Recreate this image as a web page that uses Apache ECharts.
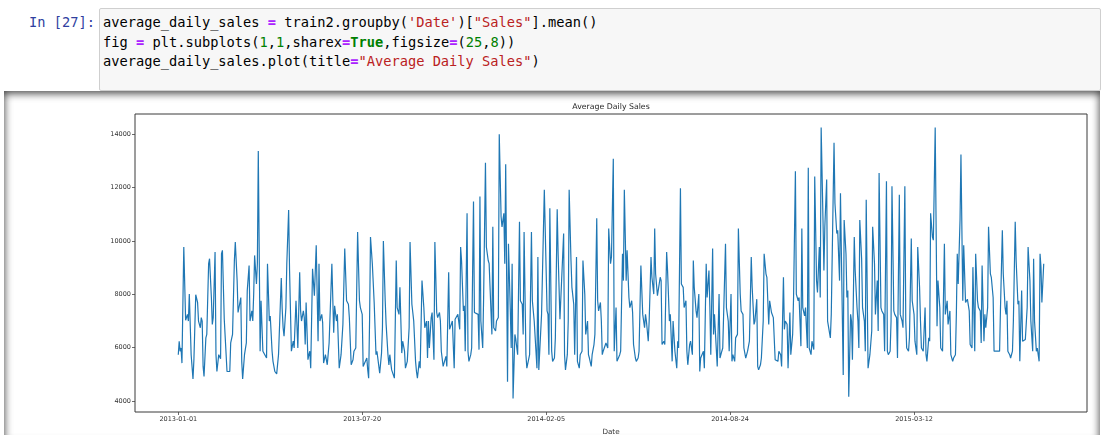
<!DOCTYPE html>
<html>
<head>
<meta charset="utf-8">
<script src="https://cdn.jsdelivr.net/npm/echarts@6/dist/echarts.min.js"></script>
<style>
  html, body { margin: 0; padding: 0; width: 1118px; height: 435px; overflow: hidden; background: #fff; }
  .prompt { position: absolute; left: 0; width: 95px; top: 13px; text-align: right;
    font-family: 'DejaVu Sans Mono', monospace; font-size: 13.7px; line-height: 19.5px; color: #303F9F; }
  .codebox { position: absolute; left: 99px; top: 8px; width: 1000px; height: 81px;
    background: #f7f7f7; border: 1px solid #cfcfcf; border-radius: 2px; }
  .code { position: absolute; left: 103px; top: 13px; white-space: pre;
    font-family: 'DejaVu Sans Mono', monospace; font-size: 13.7px; line-height: 19.5px; color: #000; }
  .o { color: #AA22FF; font-weight: bold; }
  .s { color: #BA2121; }
  .k { color: #008000; font-weight: bold; }
  .n { color: #008000; }
  .out { position: absolute; left: 4px; top: 91px; width: 1096px; height: 350px; background: #fff;
    box-shadow: inset 0 2px 8px rgba(0,0,0,0.8); }
  #chart { position: absolute; left: 0; top: 0; width: 1118px; height: 435px; }
</style>
</head>
<body>
<div class="prompt">In [27]:</div>
<div class="codebox"></div>
<div class="code">average_daily_sales <span class="o">=</span> train2.groupby(<span class="s">'Date'</span>)[<span class="s">"Sales"</span>].mean()
fig <span class="o">=</span> plt.subplots(<span class="n">1</span>,<span class="n">1</span>,sharex<span class="o">=</span><span class="k">True</span>,figsize<span class="o">=</span>(<span class="n">25</span>,<span class="n">8</span>))
average_daily_sales.plot(title<span class="o">=</span><span class="s">"Average Daily Sales"</span>)</div>
<div class="out"></div>
<div id="chart"></div>
<script>
// ---- data ----
const startDate = '2013-01-01';
const chartTitle = 'Average Daily Sales';
const xAxisName = 'Date';
const xTickLabels = ['2013-01-01', '2013-07-20', '2014-02-05', '2014-08-24', '2015-03-12'];
const yTickValues = [4000, 6000, 8000, 10000, 12000, 14000];

// days after startDate
const dayOffset = [
0,1,2,3,4,6,8,10,11,12,14,16,17,19,21,22,24,25,26,27,28,30,31,33,34,36,37,38,40,41,42,44,46,47,48,50,52,53,56,57,59,61,62,64,65,66,68,69,70,72,74,75,77,78,80,81,82,83,85,86,87,89,90,92,93,94,96,97,99,100,102,103,105,107,109,110,112,113,114,115,117,118,120,121,123,125,126,128,129,
130,132,133,134,136,137,138,139,141,142,143,144,146,148,149,150,152,153,154,156,157,158,160,162,164,167,169,170,172,173,175,177,179,181,183,185,186,188,190,191,193,195,197,198,200,201,203,205,206,207,208,209,211,212,213,215,216,218,219,221,222,223,225,226,228,229,230,232,234,235,237,238,240,241,243,244,246,247,249,251,252,254,255,256,258,259,260,262,263,265,267,268,
270,271,272,273,275,276,278,279,281,282,284,285,286,288,289,291,292,294,295,297,298,300,301,303,304,306,307,308,310,311,312,314,315,316,318,319,321,322,324,326,327,328,329,331,332,334,335,337,338,340,341,342,343,345,346,348,349,351,352,354,355,356,358,359,361,362,363,364,366,367,369,371,372,374,375,376,378,379,381,382,384,385,387,388,390,391,392,394,395,398,401,
402,403,404,406,407,409,410,412,413,415,416,419,420,421,423,424,425,427,428,430,431,433,434,436,437,439,440,442,443,445,446,447,449,450,452,453,455,456,457,459,460,461,462,464,465,467,468,470,471,473,474,476,477,478,480,481,483,484,485,487,488,490,491,493,494,495,497,498,500,501,503,505,507,508,509,511,512,514,515,517,518,519,521,522,524,525,526,528,529,531,532,534,535,537,538,540,
541,542,543,544,546,547,549,550,552,553,554,556,557,559,560,561,563,564,566,567,568,570,571,572,574,575,577,578,579,581,582,583,585,586,588,589,591,592,595,596,598,599,601,602,603,605,606,608,609,611,612,614,615,617,618,619,621,623,624,626,627,629,630,631,633,634,636,637,639,640,642,643,645,646,647,649,650,652,653,655,656,658,659,660,662,663,665,666,668,669,671,672,674,675,
677,678,679,681,682,684,685,686,688,689,691,692,694,695,697,698,699,701,702,703,705,706,707,709,710,713,714,716,717,719,720,722,723,724,726,727,728,729,731,732,733,735,736,738,739,740,741,743,744,746,747,748,750,751,752,754,755,757,758,760,761,762,764,765,767,768,770,771,772,774,775,776,778,779,781,782,784,785,787,788,790,791,792,794,795,797,798,800,801,803,804,806,807,808,
810,812,813,814,816,817,818,820,821,823,825,826,828,829,831,832,833,834,836,837,839,840,842,843,845,846,847,848,850,851,853,854,856,857,858,860,861,863,864,866,867,869,870,872,873,874,876,877,878,880,881,883,884,886,887,889,890,892,893,894,896,897,899,900,901,902,904,905,907,908,910,911,913,914,915,917,918,920,921,923,924,926,927,929,930,931,933,934,936,937,938,939,940,941
];

const avgSales = [
5740,6245,5870,5990,5425,9776,7027,7250,7000,8010,5740,4830,5550,7985,7695,7000,6750,7130,7000,5300,4920,6370,6500,9150,9335,7885,6875,7130,9590,5740,5110,5740,5590,9525,9650,7065,7000,5110,5110,6180,6500,9270,9965,8515,7320,7250,7880,5490,4830,5740,6180,8140,9080,7000,7380,7000,8010,9460,8390,9150,13370,5870,7760,5870,5930,5870,5615,9150,7000,7190,5870,5490,5110,5020,5740,5800,8615,7440,6750,6430,7500,9150,11160,8890,5870,6245,5990,7760,7695,
5990,8830,7380,7000,7380,7130,6120,7695,5550,5740,5870,5235,8955,7950,8010,9840,6245,9150,7000,7250,6940,5425,5740,5360,6180,9150,6560,7570,7000,7250,5235,5740,6875,9715,7760,7630,7130,5360,5550,5870,5990,10340,7760,7505,7250,5300,5235,5615,5170,4860,7000,10150,9150,9080,7695,5740,5870,5870,5050,5800,6750,10000,7760,6875,5740,5360,5740,5170,5235,4860,9270,7505,7250,8263,5800,6245,5870,5235,5490,6750,9965,7630,7320,7000,5490,5110,4860,5490,5235,8515,7505,6750,
7000,5615,7000,5990,7130,7320,5550,9965,7320,7130,7320,7000,5870,5300,5300,5680,5300,8830,6690,6625,7000,5235,7065,7130,7250,6690,9776,9270,7380,7570,5870,11040,5870,5490,5740,5990,11480,7320,7320,7250,5930,11670,7000,5990,7885,12930,9776,9270,9150,7380,6500,10530,6750,6625,7000,7130,14000,10910,10530,11040,9150,12870,4730,9900,7440,5990,9150,4100,6500,6310,5740,10720,7760,7630,6500,10340,5740,5235,5235,5740,10340,7760,7000,7000,5235,9400,5170,5235,7250,11920,7380,
7250,5740,11230,5870,5490,5615,6370,11190,9524,7065,7000,10280,5740,5170,5740,7000,11920,9270,8263,7630,5740,9400,5490,5235,5740,5870,9270,8010,6500,7000,5740,5615,5300,5740,6120,6500,10850,7760,7380,7695,7000,5740,5870,5870,6180,5990,10470,9150,9400,13080,5870,7505,5490,5490,5740,5870,9524,8515,11920,8515,9650,7885,7505,7760,7320,6120,5615,5490,5615,5870,9080,7250,6750,7250,7000,6245,7000,9400,8640,8010,10470,8770,7950,7885,8640,8515,6120,6245,6120,9590,8890,7000,7250,5490,7000,5870,
5550,5235,6245,5990,11980,8390,8263,7505,7760,5870,5360,6120,6245,5740,9270,8263,7380,7130,8010,5110,5615,5550,5870,5235,9150,7885,8890,7505,5740,9715,6500,7250,7250,5300,8010,5615,5870,5990,9900,7505,7000,5870,8010,5490,5740,5490,6370,6500,10470,8010,7380,7250,5990,5615,5740,5870,6245,9400,8263,6875,7000,7820,5300,5170,5360,5615,7000,9524,8770,8640,6875,7760,7320,7380,7130,5550,5615,5490,5870,5740,5300,8640,6690,7000,6875,5235,7320,5740,6500,7885,12610,8010,7760,7885,
6060,10470,7505,7190,7505,5990,12740,5990,5740,6245,5930,12420,8515,8075,9776,7885,14250,10785,8890,10530,12300,7000,7000,6370,7250,13680,11415,10280,10400,8515,11790,11730,4980,10785,9524,7885,8140,4160,7250,7000,5550,10150,8890,7505,7000,5990,10785,9335,7505,7000,5870,11540,5235,5490,5740,6625,10530,9150,7250,8515,6625,12550,7505,7380,7250,5870,12235,5870,5740,5870,7000,12046,7380,7250,7130,5615,11730,7250,7000,6750,12046,7000,5990,5870,6370,10090,7760,7250,6245,5740,9776,8263,7000,5990,
5870,7505,5740,5490,6370,6245,11040,10150,10030,14250,6810,8515,7505,5990,5870,5870,9900,7250,7760,6875,7380,5740,5490,5615,5740,7250,9524,8390,10785,13240,7760,9840,7695,7760,7820,7380,6120,5990,9020,5870,9524,7760,7505,7380,6180,9080,6245,7250,6750,7505,10530,8770,8640,7885,5870,5870,5870,5870,5870,7505,10400,8770,7505,7250,7760,5870,5740,5615,5870,7000,10720,9270,7630,7760,5490,8140,6245,6245,6310,7505,9776,8515,7000,5870,9335,7000,5870,5990,5490,9524,9020,7695,7760,9150
];

// ---- build chart ----
const DAY = 86400000;
const t0 = Date.parse(startDate + 'T00:00:00Z');
const toDay = s => Math.round((Date.parse(s + 'T00:00:00Z') - t0) / DAY);
const tickDays = xTickLabels.map(toDay);
const labelOf = {};
tickDays.forEach((d, i) => { labelOf[d] = xTickLabels[i]; });

const seriesData = dayOffset.map((d, i) => [d, avgSales[i]]);
const xMinData = Math.min(...dayOffset), xMaxData = Math.max(...dayOffset);
const xPad = (xMaxData - xMinData) * 0.05;
const yMinData = Math.min(...avgSales), yMaxData = Math.max(...avgSales);
const yPad = (yMaxData - yMinData) * 0.05;

const gridL = 135, gridT = 114, gridW = 952, gridH = 298;
const labelFont = { fontFamily: 'DejaVu Sans', fontSize: 6.5, color: '#333' };

const chart = echarts.init(document.getElementById('chart'), null, { renderer: 'canvas' });
chart.setOption({
  animation: false,
  backgroundColor: 'transparent',
  grid: { left: gridL, top: gridT, width: gridW, height: gridH, show: true,
          borderColor: '#3a3a3a', borderWidth: 1, backgroundColor: 'transparent' },
  xAxis: {
    type: 'value',
    position: 'bottom',
    min: xMinData - xPad, max: xMaxData + xPad,
    axisLine: { show: false, onZero: false },
    splitLine: { show: false },
    axisTick: { show: true, inside: false, length: 3, customValues: tickDays, lineStyle: { color: '#444', width: 0.8 } },
    axisLabel: Object.assign({ show: true, margin: 4, customValues: tickDays,
      formatter: v => labelOf[Math.round(v)] || '' }, labelFont)
  },
  yAxis: {
    type: 'value',
    position: 'left',
    min: yMinData - yPad, max: yMaxData + yPad,
    axisLine: { show: false, onZero: false },
    splitLine: { show: false },
    axisTick: { show: true, inside: false, length: 3, customValues: yTickValues, lineStyle: { color: '#444', width: 0.8 } },
    axisLabel: Object.assign({ show: true, margin: 4, customValues: yTickValues,
      formatter: v => String(Math.round(v)) }, labelFont)
  },
  graphic: [
    { type: 'text', x: gridL + gridW / 2, y: gridT - 7, silent: true,
      style: { text: chartTitle, fontFamily: 'DejaVu Sans', fontSize: 7.8, fill: '#262626',
               textAlign: 'center', textVerticalAlign: 'middle' } },
    { type: 'text', x: gridL + gridW / 2, y: gridT + gridH + 20, silent: true,
      style: { text: xAxisName, fontFamily: 'DejaVu Sans', fontSize: 7.2, fill: '#333',
               textAlign: 'center', textVerticalAlign: 'middle' } }
  ],
  series: [{
    type: 'line',
    data: seriesData,
    showSymbol: false,
    symbol: 'none',
    lineStyle: { color: '#1f77b4', width: 1.2 },
    silent: true
  }]
});
</script>
</body>
</html>
